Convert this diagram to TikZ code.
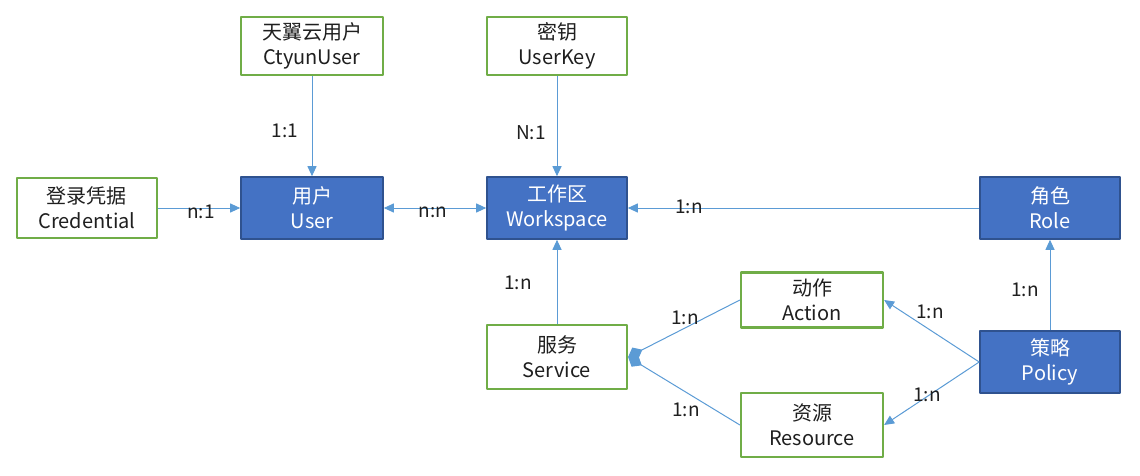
\documentclass[tikz,border=0pt]{standalone}
\usepackage{fontspec}
\setmainfont{Noto Sans CJK SC}
\usetikzlibrary{arrows.meta}
\definecolor{boxblue}{HTML}{4472C4}
\definecolor{boxedge}{HTML}{2F528F}
\definecolor{boxgreen}{HTML}{70AD47}
\definecolor{linkblue}{HTML}{5B9BD5}
\begin{document}
\begin{tikzpicture}[x=0.5pt,y=-0.5pt,>={Triangle[length=5pt,width=4.5pt]}, font=\fontsize{10}{12.5}\selectfont, line join=round,
	greenbox/.style={draw=boxgreen, line width=1.1pt, fill=white, minimum width=70pt, minimum height=30pt, align=center, inner sep=1pt, text=black!88},
	bluebox/.style={draw=boxedge, line width=0.8pt, fill=boxblue, minimum width=70pt, minimum height=31pt, align=center, inner sep=1pt, text=white},
	link/.style={draw=linkblue, line width=0.5pt},
	ratio/.style={font=\fontsize{9.5}{11}\selectfont, text=black!88, inner sep=1pt}]
	\useasboundingbox (0,0) rectangle (1140,476);
	% Kästen
	\node[greenbox, minimum width=71pt, minimum height=29pt] (ctyun) at (312,46) {天翼云用户\\CtyunUser};
	\node[greenbox, minimum height=29pt] (key) at (557,46) {密钥\\UserKey};
	\node[greenbox] (cred) at (87,208) {登录凭据\\Credential};
	\node[bluebox, minimum width=71pt] (user) at (312,208) {用户\\User};
	\node[bluebox] (ws) at (557,208) {工作区\\Workspace};
	\node[bluebox] (role) at (1050,208) {角色\\Role};
	\node[greenbox, minimum width=71pt, minimum height=27.5pt] (act) at (812,300) {动作\\Action};
	\node[greenbox, minimum height=32pt] (svc) at (557,357) {服务\\Service};
	\node[greenbox, minimum width=71pt, minimum height=32pt] (res) at (812,425) {资源\\Resource};
	\node[bluebox] (pol) at (1050,362) {策略\\Policy};
	% Verbindungen
	\draw[link,->] (ctyun) -- (user);
	\draw[link,->] (key) -- (ws);
	\draw[link,->] (cred) -- (user);
	\draw[link,<->] (user) -- (ws);
	\draw[link,->] (role) -- (ws);
	\draw[link,->] (svc) -- (ws);
	\draw[link,-{Diamond[length=8pt,width=6.5pt]}] (act.west) -- (svc.east);
	\draw[link,-{Diamond[length=8pt,width=6.5pt]}] (res.west) -- (svc.east);
	\draw[link,->] (pol.west) -- (act.east);
	\draw[link,->] (pol.west) -- (res.east);
	\draw[link,->] (pol) -- (role);
	% Kardinalitäten
	\node[ratio] (r1) at (285,131) {1:1};
	\node[ratio] (r2) at (531,133) {N:1};
	\node[ratio] (r3) at (201,212) {n:1};
	\node[ratio] (r4) at (433,212) {n:n};
	\node[ratio] (r5) at (689,207) {1:n};
	\node[ratio] (r6) at (518,283) {1:n};
	\node[ratio] (r7) at (685,318) {1:n};
	\node[ratio] (r8) at (686,410) {1:n};
	\node[ratio] (r9) at (930,312) {1:n};
	\node[ratio] (r10) at (927,395) {1:n};
	\node[ratio] (r11) at (1025,290) {1:n};
\end{tikzpicture}
\end{document}
